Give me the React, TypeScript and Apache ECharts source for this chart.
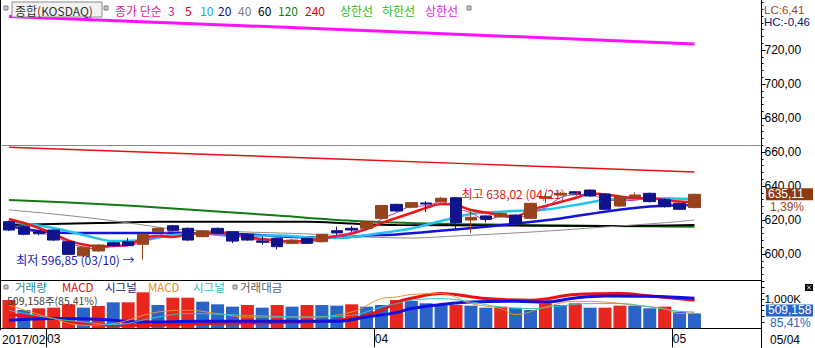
import React, { useEffect, useRef } from 'react';
import * as echarts from 'echarts';

const DATES = ['2017/02/24','2017/02/27','2017/02/28','2017/03/02','2017/03/03','2017/03/06','2017/03/07','2017/03/08','2017/03/09','2017/03/10','2017/03/13','2017/03/14','2017/03/15','2017/03/16','2017/03/17','2017/03/20','2017/03/21','2017/03/22','2017/03/23','2017/03/24','2017/03/27','2017/03/28','2017/03/29','2017/03/30','2017/03/31','2017/04/03','2017/04/04','2017/04/05','2017/04/06','2017/04/07','2017/04/10','2017/04/11','2017/04/12','2017/04/13','2017/04/14','2017/04/17','2017/04/18','2017/04/19','2017/04/20','2017/04/21','2017/04/24','2017/04/25','2017/04/26','2017/04/27','2017/04/28','2017/05/02','2017/05/04'];
const PAD = ['p1', 'p2', 'p3', 'p4'];

const OPEN = [619.0,616.1,613.0,614.1,607.2,598.9,601.8,606.6,607.2,605.7,613.1,616.6,615.1,610.2,615.1,613.1,611.6,607.6,609.2,606.3,609.2,607.2,613.7,615.1,615.1,621.0,629.2,627.5,630.0,630.8,633.1,620.0,622.4,621.9,622.9,621.0,632.8,634.7,636.6,637.6,635.3,628.2,633.7,635.7,632.2,629.8,627.3];
const CLOSE = [614.1,611.6,611.9,608.2,599.8,604.0,605.3,604.9,604.9,611.6,615.1,613.9,608.2,613.5,612.2,607.6,608.2,606.9,604.3,608.2,606.3,611.6,612.4,614.1,619.0,628.5,625.3,630.2,629.4,632.8,618.4,621.6,620.4,623.9,618.1,629.8,633.7,635.7,635.3,634.1,626.3,633.7,634.7,630.8,627.8,626.3,635.11];
const LOW = [613.5,611.0,611.0,607.6,599.4,598.2,601.3,604.4,604.5,596.85,612.6,613.2,607.6,609.8,611.8,606.4,607.8,605.5,602.6,605.8,605.8,606.8,611.2,613.0,614.6,620.5,624.8,627.0,624.7,630.3,614.5,612.2,618.5,621.5,617.6,620.5,630.0,634.2,634.9,633.6,625.8,627.7,633.0,630.3,627.3,625.8,626.8];
const HIGH = [619.6,616.8,614.0,614.6,607.6,604.8,605.8,607.1,609.5,612.2,615.6,617.1,615.6,614.0,615.6,613.5,612.0,610.2,609.6,608.8,609.6,612.0,616.1,616.5,619.5,629.0,629.6,630.6,631.0,633.5,633.5,625.9,622.8,624.3,623.3,630.2,635.9,636.4,637.0,638.02,635.7,634.1,636.2,636.1,632.6,630.2,635.5];

const VOLUME = [966000,625000,683000,704000,819000,704000,760000,887000,887000,1229000,796000,1044000,1044000,909000,819000,738000,796000,704000,796000,738000,796000,796000,773000,819000,738000,796000,966000,932000,853000,819000,796000,773000,704000,738000,704000,625000,853000,796000,853000,704000,704000,773000,773000,683000,739000,567000,509158];
const VOLUME_UP = [1,0,1,1,1,0,1,0,1,1,0,1,1,0,0,0,1,0,1,0,1,0,0,1,0,0,1,0,0,0,1,0,0,1,0,0,1,0,1,0,1,1,0,0,1,0,0];

const MA3 = [[0,618.0],[1,614.5],[2,612.5],[3,610.6],[4,606.6],[5,604.0],[6,603.0],[7,604.7],[8,605.0],[9,607.1],[10,610.5],[11,613.5],[12,612.4],[13,611.9],[14,611.3],[15,611.1],[16,609.3],[17,607.6],[18,606.5],[19,606.5],[20,606.3],[21,608.7],[22,610.1],[23,612.7],[24,615.2],[25,620.5],[26,624.3],[27,628.0],[28,628.3],[29,630.8],[30,626.9],[31,624.3],[32,620.1],[33,622.0],[34,620.8],[35,623.9],[36,627.2],[37,633.1],[38,634.9],[39,635.0],[40,631.9],[41,631.4],[42,631.6],[43,633.1],[44,631.1],[45,628.3],[46,629.7]];
const MA5 = [[0,620.6],[1,618.2],[2,615.3],[3,611.8],[4,607.9],[5,605.6],[6,604.4],[7,604.7],[8,605.3],[9,609.2],[10,610.6],[11,610.0],[12,611.5],[13,612.4],[14,612.8],[15,611.2],[16,610.0],[17,608.8],[18,607.9],[19,607.2],[20,607.9],[21,609.1],[22,610.6],[23,612.1],[24,614.7],[25,618.2],[26,621.2],[27,624.1],[28,627.1],[29,629.4],[30,628.8],[31,625.9],[32,624.4],[33,622.9],[34,622.1],[35,625.9],[36,628.2],[37,630.6],[38,632.9],[39,635.6],[40,635.0],[41,633.8],[42,632.9],[43,632.8],[44,631.8],[45,630.9],[46,630.6]];
const MA10 = [[0,618.8],[3,615.3],[5,611.2],[7,607.6],[9,608.2],[11,611.2],[13,612.1],[15,610.6],[18,610.9],[21,609.4],[23,610.0],[25,612.4],[27,615.0],[29,619.4],[31,623.5],[33,624.9],[36,626.2],[38,628.8],[40,631.8],[43,632.8],[46,632.4]];
const MA20 = [[0,616.5],[2,613.5],[4,612.4],[8,612.4],[12,612.2],[16,611.5],[19,610.0],[22,609.6],[24,610.9],[26,611.5],[30,614.4],[34,617.9],[37,620.9],[40,624.9],[43,627.9],[46,628.8]];
const MA40 = [[0,625.9],[3,623.5],[6,620.6],[9,617.1],[11,614.7],[15,613.2],[20,611.8],[24,610.0],[27,609.4],[30,610.6],[35,612.9],[40,615.9],[44,618.4],[46,620.0]];
const MA60 = [[0,617.1],[6,618.2],[10,619.0],[20,619.0],[23,617.9],[26,617.1],[33,616.8],[40,616.5],[46,617.1]];
const MA120 = [[0,631.8],[6,629.4],[11,626.8],[18,622.6],[24,619.1],[30,617.6],[40,616.5],[46,616.1]];
const MA240 = [[0,662.8],[23,655.6],[46,648.2]];
const UPPER_LIMIT = [[0,739.7],[23,731.8],[46,723.5]];
const REF_LEVEL = 664.1;

const MACD_VOL = [[0,13.7],[3,9.7],[5,4.7],[7,3],[9,3],[13,4.7],[20,6.3],[23,9.7],[25,18],[26,26],[27,30],[29,34.7],[32,29.7],[35,28],[38,33.7],[41,34.7],[43,32.3],[46,28]];
const SIGNAL_VOL = [[0,8],[3,9.7],[6,9],[9,6.3],[13,7],[22,7],[24,11.3],[26,15.7],[27,19.7],[29,23.7],[31,26.3],[34,27],[36,26.3],[38,30.3],[40,32.3],[43,32],[46,30]];
const MACD_AMT = [[0,23],[3,9.7],[5,3],[7,4.7],[10,16.3],[12,18],[14,14.7],[16,11.3],[20,11.3],[23,16.3],[25,29.7],[26,31.3],[27,33.7],[29,34.7],[31,24.7],[33,19.7],[34,13.7],[36,21.3],[38,27],[40,26.3],[42,23],[44,19.7],[45,14.7],[46,15.7]];
const SIGNAL_AMT = [[0,18],[3,9.7],[5,6.3],[7,3.7],[10,11.3],[12,14.7],[16,13],[20,11.3],[23,13],[25,21.3],[26,24.7],[27,28],[29,29.7],[31,26.3],[33,21.3],[35,19.7],[37,22.3],[39,24.7],[41,24.7],[43,21.3],[45,17],[46,16.3]];

const PRICE_TICKS = [600, 620, 640, 660, 680, 700, 720];
const VOLUME_LABEL_TICKS = [1000000];
const LC_TEXT = 'LC:6,41';
const HC_TEXT = 'HC:-0,46';
const CHANGE_PCT = '1,39%';
const VOLUME_PCT = '85,41%';

const FONT = "'Liberation Sans', Arial, sans-serif";
const KFONT = "'Noto Sans CJK KR', 'Liberation Sans', sans-serif";
const UP = '#96421a';
const DOWN = '#10148c';
const VOL_UP = '#e8261e';
const VOL_DOWN = '#2a64c8';

const fmtDec = (v: number) => v.toFixed(2).replace('.', ',');
const fmtInt = (v: number) => Math.round(v).toString().replace(/\B(?=(\d{3})+(?!\d))/g, ',');

const PMIN = 584.41, PMAX = 749.41;
const MINOR_PRICE = (() => { const a: number[] = []; for (let v = 588; v <= 748; v += 4) a.push(v); return a; })();
const MINOR_VOL = (() => { const a: number[] = []; for (let v = 200000; v <= 1600000; v += 200000) a.push(v); return a; })();

function buildOption() {
  const cats = DATES.concat(PAD);
  const monthStarts = DATES.map((d, i) => (i > 0 && d.slice(5, 7) !== DATES[i - 1].slice(5, 7) ? i : -1)).filter((i) => i >= 0);
  let lowIdx = 0, highIdx = 0;
  LOW.forEach((v, i) => { if (v < LOW[lowIdx]) lowIdx = i; });
  HIGH.forEach((v, i) => { if (v > HIGH[highIdx]) highIdx = i; });
  const candle = OPEN.map((o, i) => [o, CLOSE[i], LOW[i], HIGH[i]]);
  const line = (name: string, data: number[][], color: string, width: number, z = 2) => ({
    name, type: 'line', xAxisIndex: 0, yAxisIndex: 0, data, symbol: 'none', smooth: 0.35, z,
    lineStyle: { color, width }, silent: true,
  });
  const vline = (name: string, data: number[][], color: string, width: number) => ({
    name, type: 'line', xAxisIndex: 1, yAxisIndex: 4, data, symbol: 'none', smooth: 0.4, z: 4,
    lineStyle: { color, width }, silent: true,
  });
  return {
    animation: false,
    backgroundColor: '#ffffff',
    grid: [
      { left: 1.5, top: 0, width: 760, height: 280.5 },
      { left: 1.5, top: 281, width: 760, height: 47.3 },
    ],
    xAxis: [
      { type: 'category', gridIndex: 0, data: cats, boundaryGap: true,
        axisLine: { show: true, onZero: false, lineStyle: { color: '#000', width: 1 } },
        axisTick: { show: false }, axisLabel: { show: false }, splitLine: { show: false } },
      { type: 'category', gridIndex: 1, data: cats, boundaryGap: true,
        axisLine: { show: true, onZero: false, lineStyle: { color: '#000', width: 1 } },
        axisTick: { show: true, interval: (i: number) => monthStarts.includes(i), length: 19, lineStyle: { color: '#000' } },
        axisLabel: { show: true, interval: (i: number) => monthStarts.includes(i), formatter: (v: string) => v.slice(5, 7),
          color: '#000', fontSize: 12, fontFamily: FONT, margin: 5 },
        splitLine: { show: false } },
    ],
    yAxis: [
      { type: 'value', gridIndex: 0, position: 'right', min: PMIN, max: PMAX, scale: true,
        axisLine: { show: true, lineStyle: { color: '#000' } },
        axisTick: { show: true, customValues: PRICE_TICKS, length: 4, lineStyle: { color: '#000' } },
        axisLabel: { show: true, customValues: PRICE_TICKS, formatter: (v: number) => fmtDec(v), color: '#000', fontSize: 12, fontFamily: FONT, margin: 3 },
        splitLine: { show: false } },
      { type: 'value', gridIndex: 0, position: 'right', min: PMIN, max: PMAX, scale: true,
        axisLine: { show: false },
        axisTick: { show: true, customValues: MINOR_PRICE, length: 2, lineStyle: { color: '#000' } },
        axisLabel: { show: false }, splitLine: { show: false } },
      { type: 'value', gridIndex: 1, position: 'right', min: 0, max: 1614000,
        axisLine: { show: true, lineStyle: { color: '#000' } },
        axisTick: { show: true, customValues: MINOR_VOL, length: 3, lineStyle: { color: '#000' } },
        axisLabel: { show: true, customValues: VOLUME_LABEL_TICKS, formatter: (v: number) => fmtInt(v / 1000) + 'K', color: '#000', fontSize: 11.5, fontFamily: FONT, margin: 3 },
        splitLine: { show: false } },
      { type: 'value', gridIndex: 1, position: 'right', min: 0, max: 1614000, show: false },
      { type: 'value', gridIndex: 1, position: 'left', min: 0, max: 47.3, show: false },
    ],
    series: [
      line('상한선', UPPER_LIMIT, '#ff10ff', 3),
      line('240', MA240, '#e81010', 1.5),
      line('120', MA120, '#127a12', 2),
      line('60', MA60, '#000000', 2),
      line('40', MA40, '#8c8c8c', 1),
      line('20', MA20, '#1414d8', 2.5),
      line('10', MA10, '#22c4ee', 2.5),
      line('5', MA5, '#f01414', 2.5),
      line('3', MA3, '#c030b0', 1),
      {
        name: '종합', type: 'candlestick', xAxisIndex: 0, yAxisIndex: 0, data: candle, barWidth: 12, z: 3, silent: true,
        itemStyle: { color: UP, color0: DOWN, borderColor: UP, borderColor0: DOWN, borderWidth: 1 },
        markLine: { silent: true, symbol: ['none', 'none'], label: { show: false },
          lineStyle: { color: '#8a8a8a', width: 1, type: 'solid' }, data: [{ yAxis: REF_LEVEL }] },
        markPoint: { symbol: 'circle', symbolSize: 1, itemStyle: { color: 'rgba(0,0,0,0)' }, silent: true,
          data: [
            { coord: [lowIdx, LOW[lowIdx]], label: { show: true, position: 'left', distance: 8,
              formatter: `최저 ${fmtDec(LOW[lowIdx])} (${DATES[lowIdx].slice(5)}) →`, color: '#1a1ab8', fontSize: 12, fontFamily: KFONT } },
            { coord: [highIdx, HIGH[highIdx]], label: { show: true, position: 'left', distance: 10, offset: [0, 4],
              formatter: `최고 ${fmtDec(HIGH[highIdx])} (${DATES[highIdx].slice(5)}) →`, color: '#e01818', fontSize: 12, fontFamily: KFONT } },
          ] },
      },
      {
        name: '거래량', type: 'bar', xAxisIndex: 1, yAxisIndex: 2, barWidth: 13, z: 2, silent: true,
        data: VOLUME.map((v, i) => ({ value: v, itemStyle: { color: VOLUME_UP[i] ? VOL_UP : VOL_DOWN } })),
      },
      vline('MACD', MACD_VOL, '#ec1010', 3),
      vline('시그널', SIGNAL_VOL, '#1010e0', 3),
      vline('MACD2', MACD_AMT, '#f0922a', 1),
      vline('시그널2', SIGNAL_AMT, '#38c0c8', 1),
    ],
  };
}

function buildGraphic(yClose: number, yVol: number) {
  const T = (x: number, y: number, text: string, fill: string, size = 12, family = KFONT) => ({
    type: 'text', x, y, z: 70, silent: true,
    style: { text, fill, fontSize: size, fontFamily: family, verticalAlign: 'middle' },
  });
  const sq = (x: number, y: number) => ({ type: 'rect', z: 50, silent: true, shape: { x, y, width: 4, height: 4 }, style: { fill: '#c8c8c8', stroke: '#808080', lineWidth: 1 } });
  const L = (x1: number, y1: number, x2: number, y2: number, stroke = '#000', w = 1) => ({ type: 'line', z: 75, silent: true, shape: { x1, y1, x2, y2 }, style: { stroke, lineWidth: w } });
  const lastDate = DATES[DATES.length - 1].slice(5);
  const firstDate = DATES[0].slice(0, 7);
  return [
    L(0.5, 0, 0.5, 330),
    L(761.5, 328, 761.5, 348),
    // price legend
    sq(4, 6),
    { type: 'rect', z: 49, silent: true, shape: { x: 12, y: 2, width: 90, height: 15 }, style: { fill: '#f2f2f2', stroke: '#8c8c8c', lineWidth: 1 } },
    T(15, 10, '종합(KOSDAQ)', '#333333'),
    sq(104, 6),
    T(115, 10, '종가 단순', '#e0209a'),
    T(168, 10, '3', '#d020a0'),
    T(185, 10, '5', '#e00000'),
    T(200, 10, '10', '#20a8e0'),
    T(218, 10, '20', '#1010a0'),
    T(238, 10, '40', '#808080'),
    T(258, 10, '60', '#000000'),
    T(278, 10, '120', '#108010'),
    T(305, 10, '240', '#e00000'),
    T(340, 10, '상한선', '#22c022'),
    T(382, 10, '하한선', '#22c022'),
    T(425, 10, '상한선', '#e020e0'),
    sq(467, 6),
    // right info
    T(764, 9.5, LC_TEXT, '#a0461e', 11.5, FONT),
    T(764, 22, HC_TEXT, '#10107a', 11.5, FONT),
    { type: 'rect', z: 60, silent: true, shape: { x: 766, y: yClose - 6, width: 47, height: 12 }, style: { fill: '#8e3a0e' } },
    T(768, yClose, fmtDec(CLOSE[CLOSE.length - 1]), '#ffffff', 12, FONT),
    T(770, yClose + 13, CHANGE_PCT, '#a0461e', 12, FONT),
    // volume legend
    sq(4, 285),
    T(15, 287, '거래량', '#2e8a8a', 11.5),
    T(62, 287, 'MACD', '#e01010', 11.5),
    T(105, 287, '시그널', '#10108c', 11.5),
    T(148, 287, 'MACD', '#f08a20', 11.5),
    T(193, 287, '시그널', '#30b4c4', 11.5),
    sq(233, 285),
    T(240, 287, '거래대금', '#606060', 11.5),
    T(7, 300.5, `${fmtInt(VOLUME[VOLUME.length - 1])}주(${VOLUME_PCT})`, '#404040', 10.5),
    { type: 'rect', z: 60, silent: true, shape: { x: 766, y: yVol - 9, width: 47, height: 12 }, style: { fill: '#2a64c8' } },
    T(768, yVol - 3, fmtInt(VOLUME[VOLUME.length - 1]), '#ffffff', 12, FONT),
    T(770, yVol + 9.5, VOLUME_PCT, '#2a64c8', 12, FONT),
    { type: 'rect', z: 60, silent: true, shape: { x: 805, y: 284, width: 8, height: 7 }, style: { fill: '#000' } },
    L(807, 285.5, 811, 289.5, '#fff'), L(811, 285.5, 807, 289.5, '#fff'),
    // date row
    T(2, 340, firstDate, '#000', 12, FONT),
    T(770, 340, lastDate, '#000', 12, FONT),
  ];
}

export default function App() {
  const ref = useRef<HTMLDivElement>(null);
  useEffect(() => {
    if (!ref.current) return;
    const chart = echarts.init(ref.current, null, { renderer: 'svg' });
    chart.setOption(buildOption() as any);
    const yClose = chart.convertToPixel({ yAxisIndex: 0 } as any, CLOSE[CLOSE.length - 1]) as number;
    const yVol = chart.convertToPixel({ yAxisIndex: 2 } as any, VOLUME[VOLUME.length - 1]) as number;
    chart.setOption({ graphic: buildGraphic(yClose, yVol) } as any);
    return () => chart.dispose();
  }, []);
  return <div ref={ref} style={{ position: 'fixed', left: 0, top: 0, width: 815, height: 348, background: '#fff' }} />;
}
